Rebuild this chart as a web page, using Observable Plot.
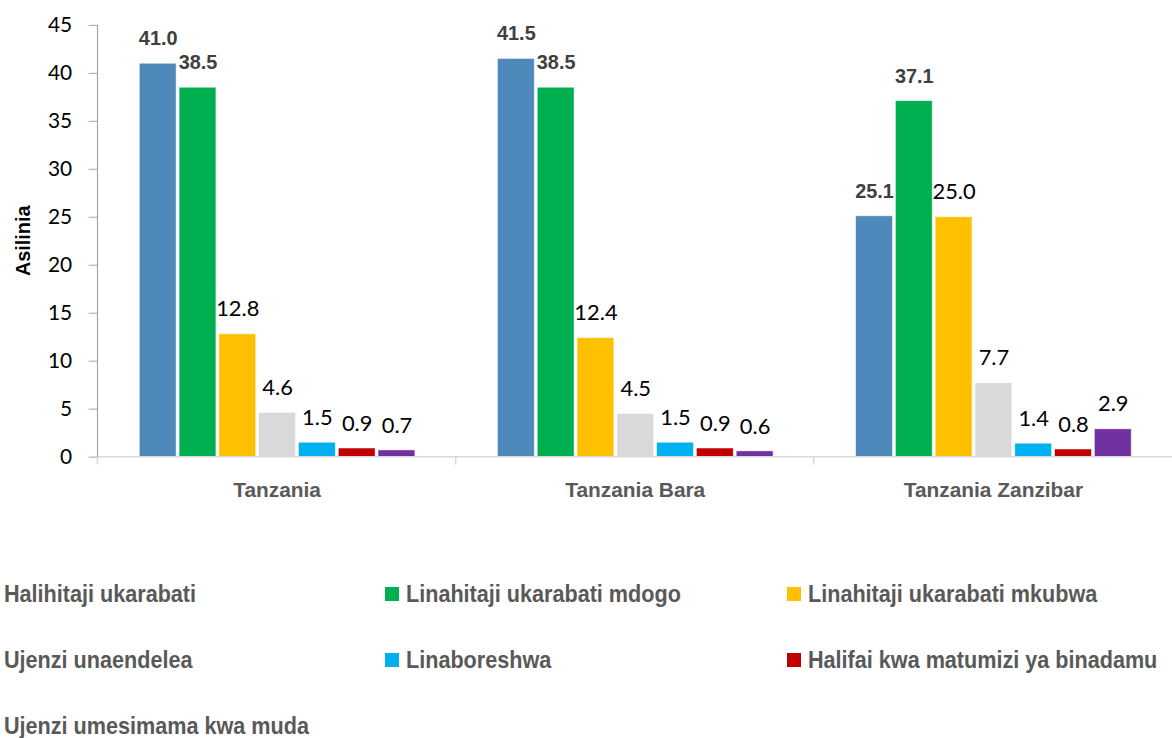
<!DOCTYPE html>
<html>
<head>
<meta charset="utf-8">
<script src="https://cdn.jsdelivr.net/npm/d3@7"></script>
<script src="https://cdn.jsdelivr.net/npm/@observablehq/plot@0.6"></script>
<style>
  html, body { margin: 0; padding: 0; background: #fff; overflow: hidden; }
  #chart svg { display: block; overflow: visible; }
  .legend {
    display: grid;
    grid-template-columns: repeat(3, 402px);
    grid-auto-rows: 66px;
    margin-left: -17px;
    padding-top: 24px;
    font-family: "Liberation Sans Narrow", "Arial Narrow", "Liberation Sans", sans-serif;
    font-weight: bold;
    font-size: 24px;
    color: #595959;
  }
  .legend .item { display: flex; align-items: center; white-space: nowrap; }
  .legend .sw { width: 14px; height: 14px; margin-right: 7px; flex: none; }
  .legend .lt { display: inline-block; transform: scaleX(0.9); transform-origin: left center; }
</style>
</head>
<body>
<div id="chart"></div>
<div class="legend" id="legend"></div>
<script>
const regions = ["Tanzania", "Tanzania Bara", "Tanzania Zanzibar"];
const seriesNames = [
  "Halihitaji ukarabati",
  "Linahitaji ukarabati mdogo",
  "Linahitaji ukarabati mkubwa",
  "Ujenzi unaendelea",
  "Linaboreshwa",
  "Halifai kwa matumizi ya binadamu",
  "Ujenzi umesimama kwa muda"
];
const seriesColors = ["#4F88BB", "#00B050", "#FFC000", "#D9D9D9", "#00B0F0", "#C00000", "#7030A0"];
const halihitaji = [41.0, 41.5, 25.1];
const mdogo = [38.5, 38.5, 37.1];
const mkubwa = [12.8, 12.4, 25.0];
const unaendelea = [4.6, 4.5, 7.7];
const linaboreshwa = [1.5, 1.5, 1.4];
const halifai = [0.9, 0.9, 0.8];
const umesimama = [0.7, 0.6, 2.9];
const yTicks = [0, 5, 10, 15, 20, 25, 30, 35, 40, 45];
const yLabel = "Asilinia";

const seriesValues = [halihitaji, mdogo, mkubwa, unaendelea, linaboreshwa, halifai, umesimama];
const boldSeries = new Set([seriesNames[0], seriesNames[1]]);

const data = [];
regions.forEach((r, i) => {
  seriesNames.forEach((s, j) => {
    data.push({region: r, series: s, value: seriesValues[j][i]});
  });
});

const narrow = '"Liberation Sans Narrow", "Arial Narrow", "Liberation Sans", sans-serif';
const numFont = 'Lato, "Open Sans", sans-serif';

const chart = Plot.plot({
  width: 1178,
  height: 540,
  marginLeft: 98,
  marginRight: 0,
  marginTop: 25,
  marginBottom: 81,
  style: {fontFamily: numFont, background: "white"},
  fx: {domain: regions, padding: 0, label: null},
  x: {domain: seriesNames, paddingInner: 0.08, paddingOuter: 1.0, axis: null},
  y: {domain: [0, 45], label: null},
  color: {domain: seriesNames, range: seriesColors},
  marks: [
    Plot.axisY({ticks: yTicks, tickSize: 9, tickPadding: 17, fontSize: 21, stroke: "#a6a6a6", fill: "#000", label: null, tickFormat: d => d}),
    Plot.axisFx({anchor: "bottom", tickSize: 0, tickPadding: 25, fontSize: 21, fontWeight: "bold", fill: "#595959", fontFamily: narrow, label: null}),
    Plot.barY(data, {fx: "region", x: "series", y: "value", fill: "series", stroke: "#ffffff", strokeOpacity: 0.6, strokeWidth: 0.8}),
    Plot.text(data.filter(d => boldSeries.has(d.series)), {
      fx: "region", x: "series", y: "value", text: d => d.value.toFixed(1),
      dy: -25, fontSize: 20, fontWeight: "bold", fill: "#404040", fontFamily: narrow
    }),
    Plot.text(data.filter(d => !boldSeries.has(d.series)), {
      fx: "region", x: "series", y: "value", text: d => d.value.toFixed(1),
      dy: -25, fontSize: 22, fill: "#000"
    })
  ]
});

document.getElementById("chart").appendChild(chart);

// axis lines and group separators from the library's scales
const fx = chart.scale("fx");
const y = chart.scale("y");
const svg = d3.select(chart);
const y0 = y.apply(0);
const yTop = y.apply(45);
const x0 = fx.range[0];
const x1 = fx.range[1];
const g = svg.append("g");
g.append("line").attr("x1", x0).attr("x2", x1).attr("y1", y0).attr("y2", y0)
  .attr("stroke", "#d9d9d9").attr("stroke-width", 1.5);
fx.domain.forEach((d, i) => {
  const xs = fx.apply(d);
  g.append("line").attr("x1", xs).attr("x2", xs).attr("y1", y0).attr("y2", y0 + 8)
    .attr("stroke", "#d9d9d9").attr("stroke-width", 1.5);
});
g.append("line").attr("x1", x0).attr("x2", x0).attr("y1", yTop).attr("y2", y0)
  .attr("stroke", "#a6a6a6").attr("stroke-width", 1.2);
svg.append("text")
  .attr("transform", `translate(30,${(yTop + y0) / 2}) rotate(-90)`)
  .attr("text-anchor", "middle")
  .attr("font-family", '"Liberation Sans", Arial, sans-serif')
  .attr("font-weight", "bold")
  .attr("font-size", 20)
  .attr("fill", "#000")
  .text(yLabel);

// legend
const legend = document.getElementById("legend");
seriesNames.forEach((s, i) => {
  const item = document.createElement("div");
  item.className = "item";
  const sw = document.createElement("span");
  sw.className = "sw";
  sw.style.background = seriesColors[i];
  const t = document.createElement("span");
  t.className = "lt";
  t.textContent = s;
  item.appendChild(sw);
  item.appendChild(t);
  legend.appendChild(item);
});
</script>
</body>
</html>
